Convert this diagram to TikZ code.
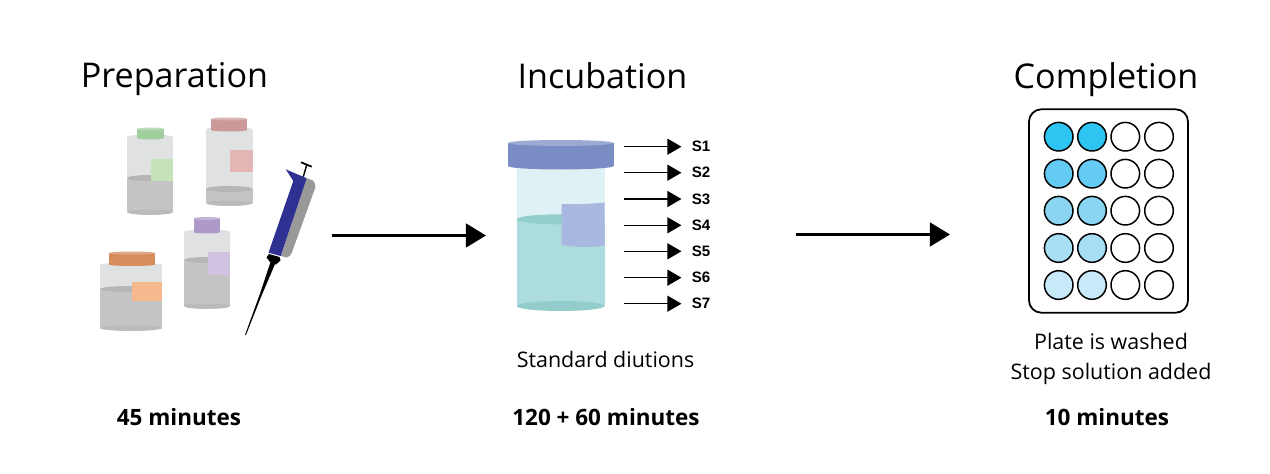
\documentclass[tikz,border=0pt]{standalone}
\usepackage{fontspec}
\setmainfont{Open Sans}
\newfontfamily\labelfont{Liberation Sans}
\usetikzlibrary{arrows.meta,positioning,calc}
\definecolor{bottleglass}{HTML}{DFE1E3}
\definecolor{bottleliquid}{HTML}{C4C4C4}
\definecolor{bottleshade}{HTML}{B6B6B6}
\definecolor{jarglass}{HTML}{E0F1F6}
\definecolor{jarwater}{HTML}{ADDCDE}
\definecolor{jarshade}{HTML}{93CDCB}
\definecolor{jarcap}{HTML}{7A8CC4}
\definecolor{jarlabel}{HTML}{A9B8E0}
\definecolor{pipblue}{HTML}{2E3192}
\definecolor{capgreen}{HTML}{A0CE9C}
\definecolor{capred}{HTML}{CC9999}
\definecolor{cappurple}{HTML}{AD9AC8}
\definecolor{caporange}{HTML}{D58E5C}
\definecolor{tagreen}{HTML}{C5E3B8}
\definecolor{tagred}{HTML}{E3B5B5}
\definecolor{tagpurple}{HTML}{D0C4E2}
\definecolor{tagorange}{HTML}{F5B98D}
\tikzset{
title/.style={anchor=base,font=\fontsize{19.4}{24}\selectfont},
caption/.style={anchor=base,font=\fontsize{12.2}{17}\selectfont},
timing/.style={anchor=base,font=\fontsize{12.8}{15}\selectfont\bfseries},
smalllabel/.style={font=\labelfont\fontsize{8.6}{10}\selectfont\bfseries},
bigarrow/.style={-{Triangle[length=11.5pt,width=13.5pt]},line width=1.7pt},
thinarrow/.style={-{Triangle[length=8pt,width=9pt]},line width=0.9pt},
well/.style={draw=black,line width=0.85pt}
}
\newcommand \mybottle[5]
{
\fill[bottleglass] (#1,#3) rectangle (#2,#4);
\fill[bottleglass] ({(#1+#2)/2},#3) ellipse [x radius={(#2-#1)/2},y radius=2.5];
\fill[bottleliquid] (#1,#4) rectangle (#2,#5);
\fill[bottleliquid] ({(#1+#2)/2},#5) ellipse [x radius={(#2-#1)/2},y radius=3];
\fill[bottleshade] ({(#1+#2)/2},#4) ellipse [x radius={(#2-#1)/2},y radius=3];
\fill[bottleshade!70!bottleliquid] ({(#1+#2)/2},#5) ellipse [x radius={(#2-#1)/2},y radius=2.5];
}
\newcommand \mycap[5]
{
\fill[#5] (#1,#3) rectangle (#2,#4);
\fill[#5] ({(#1+#2)/2},#4) ellipse [x radius={(#2-#1)/2},y radius=1.5];
\fill[#5!75!white] ({(#1+#2)/2},#3) ellipse [x radius={(#2-#1)/2},y radius=1.5];
}
\begin{document}
\begin{tikzpicture}[x=0.02cm,y=-0.02cm,line join=round]
\useasboundingbox (0,0) rectangle (1270,473);
\fill[white] (0,0) rectangle (1270,473);
% titles
\node[title] (prep) at (174.5,88) {Preparation};
\node[title] (incub) at (602.5,89) {Incubation};
\node[title] (compl) at (1106,89) {Completion};
% bottles
\mybottle{127}{173}{137}{178}{212}
\mycap{137}{163.7}{129}{138}{capgreen}
\fill[tagreen] (150.7,158.7) rectangle (173,180.7);
\mybottle{206}{252.7}{129.5}{189}{203}
\mycap{211}{247}{119}{130}{capred}
\fill[tagred] (230,150) rectangle (252.7,172);
\mybottle{184}{230.3}{232}{260}{306}
\mycap{193.7}{220}{218.5}{232}{cappurple}
\fill[tagpurple] (207.7,252) rectangle (230.3,274.7);
\mybottle{100}{162}{265}{289}{328}
\mycap{109}{155}{253}{264.5}{caporange}
\fill[tagorange] (132,282) rectangle (162,301);
% pipette
\draw[line width=0.8pt] (303.3,176.7)--(306.7,165);
\draw[line width=1pt] (301,162.3)--(311.7,166.7);
\fill[gray!80] (306.7,178.3)--(313,180.5) to[bend left=20] (315.5,187)--(291.7,253) to[bend left=20] (287,257.5)--(280.7,256)--cycle;
\fill[pipblue] (285.7,169.3)--(306.7,178.3)--(280.7,256)--(268.5,252.7)--(293.3,181)--cycle;
\fill[black] (269,254)--(266.5,257.5)--(270,262)--(276,264.5)--(280.5,260.5)--(279.5,257)--cycle;
\fill[black] (270.5,262)--(275,264)--(261,297)--(246,335)--(245,335)--(259.5,295)--cycle;
% jar
\fill[jarglass] (516.7,160) rectangle (604.7,219);
\fill[jarwater] (516.7,219.3) rectangle (604.7,306);
\fill[jarshade] (560.7,219.3) ellipse [x radius=44,y radius=5];
\fill[jarshade] (560.7,306) ellipse [x radius=44,y radius=5];
\fill[jarlabel] (561.7,204) .. controls (575,204.5) and (590,204) .. (604.7,202.5)--(604.7,245.5) .. controls (590,247.5) and (575,247.5) .. (561.7,245)--cycle;
\fill[jarcap] (508,143) rectangle (613.7,166);
\fill[jarcap] (560.8,166) ellipse [x radius=52.8,y radius=3.5];
\fill[jarcap!75!white] (560.8,143) ellipse [x radius=52.8,y radius=3];
% standards
\foreach \n/\yy in {1/146.7,2/172.7,3/199,4/225.3,5/251.3,6/277.7,7/303.7}
{
\coordinate (a\n) at (624.3,\yy);
\node[smalllabel] (s\n) at (701,\yy) {S\n};
\draw[thinarrow] (a\n)--(681.5,\yy);
}
\node[caption] (dil) at (605.5,367) {Standard diutions};
% main arrows
\coordinate (a) at (332,235.5);
\coordinate (b) at (486,235.5);
\coordinate (c) at (796,234.5);
\coordinate (d) at (950,234.5);
\draw[bigarrow] (a)--(b);
\draw[bigarrow] (c)--(d);
% plate
\draw[line width=1pt,rounded corners=7pt] (1029,109.3) rectangle (1188,312.7);
\definecolor{w1}{HTML}{2EC5F3}
\definecolor{w2}{HTML}{63CBF4}
\definecolor{w3}{HTML}{8AD5F2}
\definecolor{w4}{HTML}{A9DFF5}
\definecolor{w5}{HTML}{C8EAF8}
\foreach \r/\yy in {1/136.7,2/173.7,3/210.7,4/248,5/285}
{
\draw[well,fill=w\r] (1058.7,\yy) circle (14.3);
\draw[well,fill=w\r] (1092,\yy) circle (14.3);
\draw[well] (1125.3,\yy) circle (14.3);
\draw[well] (1159,\yy) circle (14.3);
}
\node[caption] (wash) at (1111,349) {Plate is washed};
\node[caption] (stop) at (1111,379) {Stop solution added};
% times
\node[timing] (t1) at (179,425) {45 minutes};
\node[timing] (t2) at (606,425) {120 + 60 minutes};
\node[timing] (t3) at (1107,425) {10 minutes};
\end{tikzpicture}
\end{document}
